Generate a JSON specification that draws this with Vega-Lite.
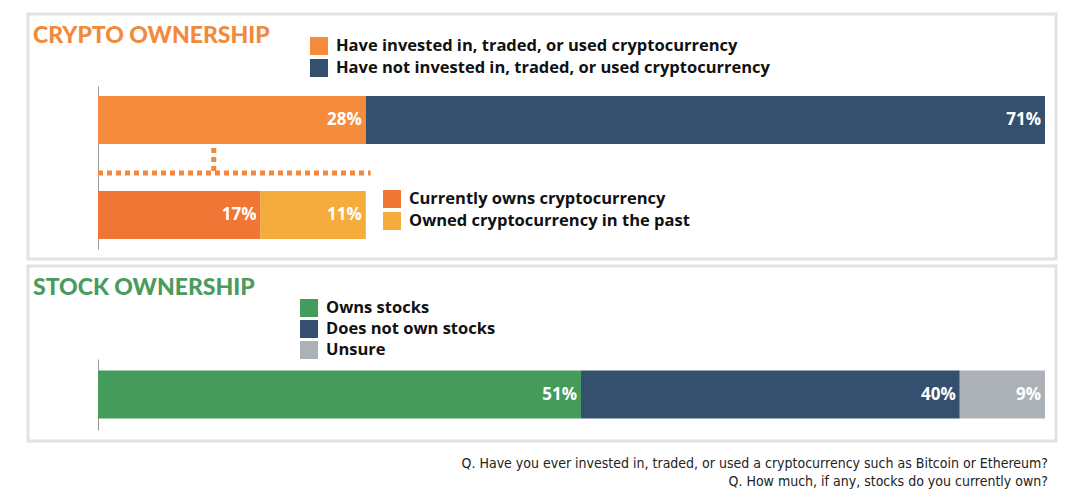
{
  "$schema": "https://vega.github.io/schema/vega-lite/v6.json",
  "padding": {"left": 26, "top": 12, "right": 10, "bottom": 4},
  "background": "white",
  "bounds": "flush",
  "title": {
    "text": ["Q. Have you ever invested in, traded, or used a cryptocurrency such as Bitcoin or Ethereum?", "Q. How much, if any, stocks do you currently own?"],
    "orient": "bottom", "anchor": "end", "frame": "group",
    "font": "DejaVu Sans Condensed", "fontSize": 14, "fontWeight": "normal", "color": "#222",
    "lineHeight": 18, "offset": 14, "dx": -8
  },
  "datasets": {
    "crypto": [
      {"row": "main", "cat": "Have invested in, traded, or used cryptocurrency", "v": 28, "k": 1, "lab": "28%"},
      {"row": "main", "cat": "Have not invested in, traded, or used cryptocurrency", "v": 71, "k": 2, "lab": "71%"}
    ],
    "split": [
      {"row": "split", "cat": "Currently owns cryptocurrency", "v": 17, "k": 1, "lab": "17%"},
      {"row": "split", "cat": "Owned cryptocurrency in the past", "v": 11, "k": 2, "lab": "11%"}
    ],
    "stock": [
      {"row": "stock", "cat": "Owns stocks", "v": 51, "k": 1, "lab": "51%"},
      {"row": "stock", "cat": "Does not own stocks", "v": 40, "k": 2, "lab": "40%"},
      {"row": "stock", "cat": "Unsure", "v": 9, "k": 3, "lab": "9%"}
    ],
    "links": [
      {"a": 0, "b": 28.5, "from": "split", "to": "split"}
    ],
    "stem": [
      {"a": 12.1, "from": "main", "to": "split"}
    ]
  },
  "vconcat": [
    {
      "width": 1028,
      "height": 245,
      "title": {"text": "CRYPTO OWNERSHIP", "anchor": "start", "orient": "top", "offset": -52, "dx": 5, "baseline": "alphabetic", "font": "Lato", "fontWeight": 900, "fontSize": 23, "color": "#F18A3A"},
      "encoding": {
        "y": {"field": "row", "type": "nominal",
          "scale": {"domain": ["main", "split"], "range": [72, 235], "paddingInner": 0.4947, "paddingOuter": 0.105},
          "axis": {"title": null, "labels": false, "ticks": false, "grid": false, "domain": true, "domainColor": "#9a9a9a", "domainWidth": 1, "offset": -70}
        }
      },
      "layer": [
        {
          "data": {"name": "links"},
          "mark": {"type": "rule", "color": "#F4883A", "strokeWidth": 5, "strokeDash": [5, 4], "yOffset": -42},
          "encoding": {
            "x": {"field": "a", "type": "quantitative", "scale": {"domain": [0, 99], "range": [70, 1017], "nice": false, "zero": false}, "axis": null},
            "x2": {"field": "b"},
            "y": {"field": "from", "type": "nominal"}
          }
        },
        {
          "data": {"name": "stem"},
          "mark": {"type": "rule", "color": "#F4883A", "strokeWidth": 5, "strokeDash": [5, 4], "yOffset": 28, "y2Offset": -42},
          "encoding": {
            "x": {"field": "a", "type": "quantitative", "scale": {"domain": [0, 99], "range": [70, 1017], "nice": false, "zero": false}, "axis": null},
            "y": {"field": "from", "type": "nominal"},
            "y2": {"field": "to"}
          }
        },
        {
          "data": {"name": "crypto"},
          "layer": [
            {
              "mark": {"type": "bar"},
              "encoding": {
                "x": {"field": "v", "type": "quantitative", "stack": "zero", "scale": {"domain": [0, 99], "range": [70, 1017], "nice": false, "zero": false}, "axis": null},
                "color": {"field": "cat", "type": "nominal",
                  "scale": {"domain": ["Have invested in, traded, or used cryptocurrency", "Have not invested in, traded, or used cryptocurrency"], "range": ["#F68B3C", "#35506E"]},
                  "legend": {"orient": "none", "legendX": 282, "legendY": 23, "title": null, "symbolType": "square", "symbolSize": 324, "symbolStrokeWidth": 0, "labelFont": "Open Sans", "labelFontWeight": "bold", "labelFontSize": 16.5, "labelColor": "#111", "rowPadding": 4, "labelOffset": 8, "labelLimit": 600}
                },
                "order": {"field": "k"}
              }
            },
            {
              "mark": {"type": "text", "align": "right", "baseline": "middle", "dx": -4, "color": "white", "font": "Open Sans", "fontWeight": "bold", "fontSize": 17},
              "encoding": {
                "x": {"field": "v", "type": "quantitative", "stack": "zero", "scale": {"domain": [0, 99], "range": [70, 1017], "nice": false, "zero": false}, "axis": null},
                "detail": {"field": "cat"},
                "order": {"field": "k"},
                "text": {"field": "lab"}
              }
            }
          ]
        },
        {
          "data": {"name": "split"},
          "layer": [
            {
              "mark": {"type": "bar"},
              "encoding": {
                "x": {"field": "v", "type": "quantitative", "stack": "zero", "scale": {"domain": [0, 99], "range": [70, 1017], "nice": false, "zero": false}, "axis": null},
                "color": {"field": "cat", "type": "nominal",
                  "scale": {"domain": ["Currently owns cryptocurrency", "Owned cryptocurrency in the past"], "range": ["#EF7634", "#F5AC3D"]},
                  "legend": {"orient": "none", "legendX": 355, "legendY": 176, "title": null, "symbolType": "square", "symbolSize": 324, "symbolStrokeWidth": 0, "labelFont": "Open Sans", "labelFontWeight": "bold", "labelFontSize": 16.5, "labelColor": "#111", "rowPadding": 4, "labelOffset": 8, "labelLimit": 600}
                },
                "order": {"field": "k"}
              }
            },
            {
              "mark": {"type": "text", "align": "right", "baseline": "middle", "dx": -4, "color": "white", "font": "Open Sans", "fontWeight": "bold", "fontSize": 17},
              "encoding": {
                "x": {"field": "v", "type": "quantitative", "stack": "zero", "scale": {"domain": [0, 99], "range": [70, 1017], "nice": false, "zero": false}, "axis": null},
                "detail": {"field": "cat"},
                "order": {"field": "k"},
                "text": {"field": "lab"}
              }
            }
          ]
        }
      ],
      "resolve": {"scale": {"color": "independent"}, "legend": {"color": "independent"}}
    },
    {
      "width": 1028,
      "height": 175,
      "title": {"text": "STOCK OWNERSHIP", "anchor": "start", "orient": "top", "offset": -52, "dx": 5, "baseline": "alphabetic", "font": "Lato", "fontWeight": 900, "fontSize": 23, "color": "#4A9B5C"},
      "data": {"name": "stock"},
      "encoding": {
        "y": {"field": "row", "type": "nominal",
          "scale": {"domain": ["stock"], "range": [93, 164], "paddingInner": 0, "paddingOuter": 0.24},
          "axis": {"title": null, "labels": false, "ticks": false, "grid": false, "domain": true, "domainColor": "#9a9a9a", "domainWidth": 1, "offset": -70}
        },
        "x": {"field": "v", "type": "quantitative", "stack": "zero", "scale": {"domain": [0, 100], "range": [70, 1017], "nice": false}, "axis": null},
        "order": {"field": "k"}
      },
      "layer": [
        {
          "mark": {"type": "bar"},
          "encoding": {
            "color": {"field": "cat", "type": "nominal",
              "scale": {"domain": ["Owns stocks", "Does not own stocks", "Unsure"], "range": ["#459B59", "#35506E", "#ACB1B8"]},
              "legend": {"orient": "none", "legendX": 272, "legendY": 285, "title": null, "symbolType": "square", "symbolSize": 324, "symbolStrokeWidth": 0, "labelFont": "Open Sans", "labelFontWeight": "bold", "labelFontSize": 16.5, "labelColor": "#111", "rowPadding": 3, "labelOffset": 8, "labelLimit": 600}
            }
          }
        },
        {
          "mark": {"type": "text", "align": "right", "baseline": "middle", "dx": -4, "color": "white", "font": "Open Sans", "fontWeight": "bold", "fontSize": 17},
          "encoding": {
            "detail": {"field": "cat"},
            "text": {"field": "lab"}
          }
        }
      ]
    }
  ],
  "spacing": 7,
  "config": {
    "view": {"stroke": "#e2e2e2", "strokeWidth": 3},
    "legend": {"padding": 0}
  }
}
